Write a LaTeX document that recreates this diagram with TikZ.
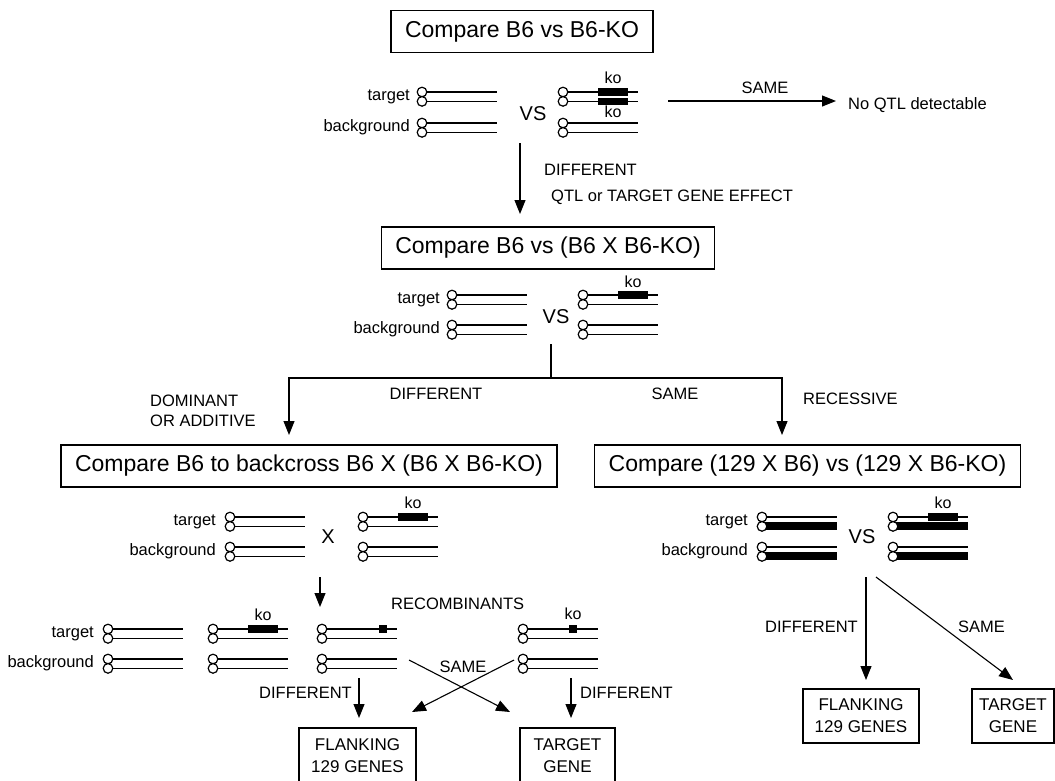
\documentclass[tikz,border=0pt]{standalone}
\usepackage{fontspec}
\setmainfont{Liberation Sans}
\usetikzlibrary{arrows.meta}
\tikzset{
  chr/.style={line width=1.2pt},
  ln/.style={line width=1.1pt},
  arr/.style={line width=1.1pt,-{Triangle[width=11pt,length=14pt]}},
  bigbox/.style={draw,line width=1.2pt,inner xsep=14pt,minimum height=42pt,font=\fontsize{23}{27}\selectfont},
  smallbox/.style={draw,line width=1.2pt,align=center,font=\fontsize{17}{22}\selectfont},
  lbl/.style={font=\fontsize{16.5}{19}\selectfont,inner sep=0pt},
  kolbl/.style={font=\fontsize{16}{18}\selectfont,inner sep=0pt},
  vslbl/.style={font=\fontsize{20}{22}\selectfont,inner sep=0pt}
}
% one chromosome pair: top circle centre at (#1,#2)
\newcommand{\chrpair}[2]{%
  \draw[chr] (#1+4.8,#2) -- (#1+75,#2) (#1+4.8,#2+9.4) -- (#1+75,#2+9.4);
  \draw[chr,fill=white] (#1,#2) circle[radius=4.8pt] (#1,#2+9.4) circle[radius=4.8pt];}
% pair with thick (129) lower chromosome
\newcommand{\chrthick}[2]{%
  \draw[chr] (#1+4.8,#2) -- (#1+75,#2);
  \fill (#1+2,#2+9.4-4) rectangle (#1+75,#2+9.4+4);
  \draw[chr,fill=white] (#1,#2) circle[radius=4.8pt] (#1,#2+9.4) circle[radius=4.8pt];}
\newcommand{\kobar}[3]{\fill (#1,#3-3.7) rectangle (#2,#3+3.7);}
\begin{document}
\begin{tikzpicture}[x=1pt,y=-1pt]
\useasboundingbox (0,0) rectangle (1055,780);
\fill[white] (0,0) rectangle (1055,780);
\clip (0,0) rectangle (1055,780);

% ---------- boxes ----------
\node[bigbox] (b1) at (522,31.5) {Compare B6 vs B6-KO};
\node[bigbox] (b2) at (548,248) {Compare B6 vs (B6 X B6-KO)};
\node[bigbox] (b3l) at (309,466) {Compare B6 to backcross B6 X (B6 X B6-KO)};
\node[bigbox] (b3r) at (807.5,466) {Compare (129 X B6) vs (129 X B6-KO)};

% ---------- row 1 ----------
\chrpair{422}{92} \chrpair{422}{123}
\chrpair{563}{92} \chrpair{563}{123}
\kobar{598}{628}{92} \kobar{598}{628}{101.4}
\node[lbl,anchor=east] (t1) at (410,96.5) {target};
\node[lbl,anchor=east] (g1) at (410,127.5) {background};
\node[vslbl] (vs1) at (533,114) {VS};
\node[kolbl] (ko1a) at (613,78) {ko};
\node[kolbl] (ko1b) at (613,111.5) {ko};
\coordinate (s1a) at (668,101);
\coordinate (s1b) at (836,101);
\draw[arr] (s1a) -- (s1b);
\node[lbl] (same1) at (765,88) {SAME};
\node[lbl,anchor=west] (noqtl) at (848,105) {No QTL detectable};
\coordinate (d1a) at (520,143);
\coordinate (d1b) at (520,214);
\draw[arr] (d1a) -- (d1b);
\node[lbl,anchor=west] (diff1) at (544,170) {DIFFERENT};
\node[lbl,anchor=west] (qtl) at (551,197) {QTL or TARGET GENE EFFECT};

% ---------- row 2 ----------
\chrpair{452}{295} \chrpair{452}{325}
\chrpair{583}{295} \chrpair{583}{325}
\kobar{618}{648}{295}
\node[lbl,anchor=east] (t2) at (440,299.5) {target};
\node[lbl,anchor=east] (g2) at (440,329.5) {background};
\node[vslbl] (vs2) at (556,317) {VS};
\node[kolbl] (ko2) at (633,282) {ko};
\coordinate (v2a) at (551,344);
\coordinate (v2b) at (551,378);
\coordinate (a3l) at (289,435);
\coordinate (a3r) at (782,435);
\draw[ln] (v2a) -- (v2b);
\draw[arr] (v2b) -| (a3l);
\draw[arr] (v2b) -| (a3r);
\node[lbl] (diff2) at (436,394) {DIFFERENT};
\node[lbl] (same2) at (675,394) {SAME};
\node[lbl,anchor=west] (dom) at (150,401) {DOMINANT};
\node[lbl,anchor=west] (add) at (150,421) {OR ADDITIVE};
\node[lbl,anchor=west] (rec) at (803,399) {RECESSIVE};

% ---------- row 3 left ----------
\chrpair{230}{517} \chrpair{230}{547}
\chrpair{363}{517} \chrpair{363}{547}
\kobar{398}{428}{517}
\node[lbl,anchor=east] (t3) at (216,521.5) {target};
\node[lbl,anchor=east] (g3) at (216,551.5) {background};
\node[vslbl] (x3) at (328,537) {X};
\node[kolbl] (ko3) at (413,503) {ko};
\coordinate (d3a) at (320,577);
\coordinate (d3b) at (320,607);
\draw[arr] (d3a) -- (d3b);
\node[lbl,anchor=west] (recomb) at (391,604) {RECOMBINANTS};

% ---------- row 3 right ----------
\chrthick{762}{517} \chrthick{762}{547}
\chrthick{893}{517} \chrthick{893}{547}
\kobar{928}{958}{517}
\node[lbl,anchor=east] (t3r) at (748,521.5) {target};
\node[lbl,anchor=east] (g3r) at (748,551.5) {background};
\node[vslbl] (vs3) at (862,537) {VS};
\node[kolbl] (ko3r) at (943,503) {ko};
\node[smallbox,minimum width=116pt,minimum height=54pt] (fl2) at (861,716) {FLANKING\\129 GENES};
\node[smallbox,minimum width=82pt,minimum height=54pt] (tg2) at (1013,716) {TARGET\\GENE};
\coordinate (r3a) at (866,577);
\coordinate (r3b) at (866,680);
\coordinate (r3c) at (876,577);
\coordinate (r3d) at (1013,680);
\draw[arr] (r3a) -- (r3b);
\draw[arr] (r3c) -- (r3d);
\node[lbl,anchor=east] (diff3r) at (858,627) {DIFFERENT};
\node[lbl,anchor=west] (same3r) at (958,627) {SAME};

% ---------- row 4 (recombinants) ----------
\chrpair{108}{629} \chrpair{108}{659}
\chrpair{213}{629} \chrpair{213}{659}
\chrpair{322}{629} \chrpair{322}{659}
\chrpair{523}{629} \chrpair{523}{659}
\kobar{248}{278}{629}
\fill (379,625) rectangle (387,633);
\fill (569,625) rectangle (577,633);
\node[lbl,anchor=east] (t4) at (94,633.5) {target};
\node[lbl,anchor=east] (g4) at (94,663.5) {background};
\node[kolbl] (ko4a) at (263,615) {ko};
\node[kolbl] (ko4b) at (573,614) {ko};
\coordinate (c1a) at (409,660);
\coordinate (c1b) at (510,712);
\coordinate (c2a) at (514,660);
\coordinate (c2b) at (412,712);
\draw[arr] (c1a) -- (c1b);
\draw[arr] (c2a) -- (c2b);
\node[lbl] (same4) at (463,667) {SAME};
\coordinate (e1a) at (359,678);
\coordinate (e1b) at (359,718);
\coordinate (e2a) at (571,678);
\coordinate (e2b) at (571,718);
\draw[arr] (e1a) -- (e1b);
\draw[arr] (e2a) -- (e2b);
\node[lbl,anchor=east] (diff4l) at (352,693) {DIFFERENT};
\node[lbl,anchor=west] (diff4r) at (580,693) {DIFFERENT};
\node[smallbox,minimum width=117pt,minimum height=56pt] (fl1) at (357.5,756) {FLANKING\\129 GENES};
\node[smallbox,minimum width=95pt,minimum height=56pt] (tg1) at (567.5,756) {TARGET\\GENE};
\end{tikzpicture}
\end{document}
